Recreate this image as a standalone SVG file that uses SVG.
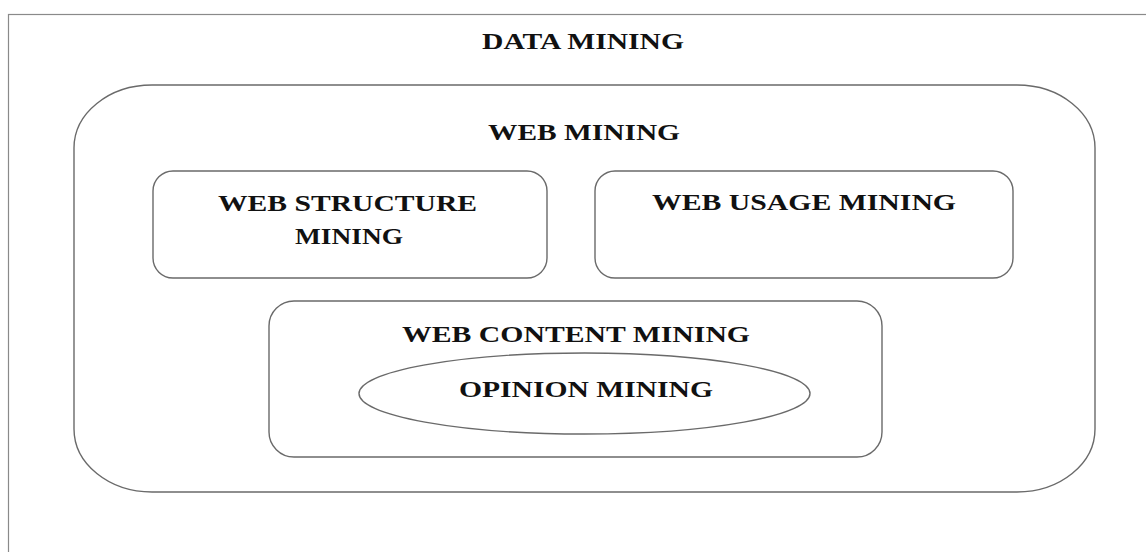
<svg xmlns="http://www.w3.org/2000/svg" width="1146" height="552" viewBox="0 0 1146 552">
<style>
.box{fill:none;stroke:#6a6a6a;stroke-width:1.4}
.lbl{font-family:"Liberation Serif","Times New Roman",serif;font-weight:bold;font-size:24px;fill:#111}
</style>
<rect width="1146" height="552" fill="#fff"/>
<g id="data-mining">
<rect x="8.5" y="14.5" width="1200" height="600" fill="none" stroke="#8a8a8a" stroke-width="1.2"/>
<text class="lbl" x="482" y="49" textLength="202" lengthAdjust="spacingAndGlyphs">DATA MINING</text>
</g>
<g id="web-mining">
<rect class="box" x="74" y="85" width="1021" height="407" rx="78" ry="63"/>
<text class="lbl" x="488" y="140" textLength="192" lengthAdjust="spacingAndGlyphs">WEB MINING</text>
</g>
<g id="web-structure-mining">
<rect class="box" x="153" y="171" width="394" height="107" rx="20"/>
<text class="lbl" x="218" y="211" textLength="259" lengthAdjust="spacingAndGlyphs">WEB STRUCTURE</text>
<text class="lbl" x="295" y="244" textLength="108" lengthAdjust="spacingAndGlyphs">MINING</text>
</g>
<g id="web-usage-mining">
<rect class="box" x="595" y="171" width="418" height="107" rx="20"/>
<text class="lbl" x="652" y="210" textLength="304" lengthAdjust="spacingAndGlyphs">WEB USAGE MINING</text>
</g>
<g id="web-content-mining">
<rect class="box" x="269" y="301" width="613" height="156" rx="25"/>
<text class="lbl" x="402" y="342" textLength="348" lengthAdjust="spacingAndGlyphs">WEB CONTENT MINING</text>
</g>
<g id="opinion-mining">
<ellipse class="box" cx="584.5" cy="393.5" rx="225.5" ry="40.5"/>
<text class="lbl" x="459" y="397" textLength="254" lengthAdjust="spacingAndGlyphs">OPINION MINING</text>
</g>
<g id="connectors"/>
</svg>
